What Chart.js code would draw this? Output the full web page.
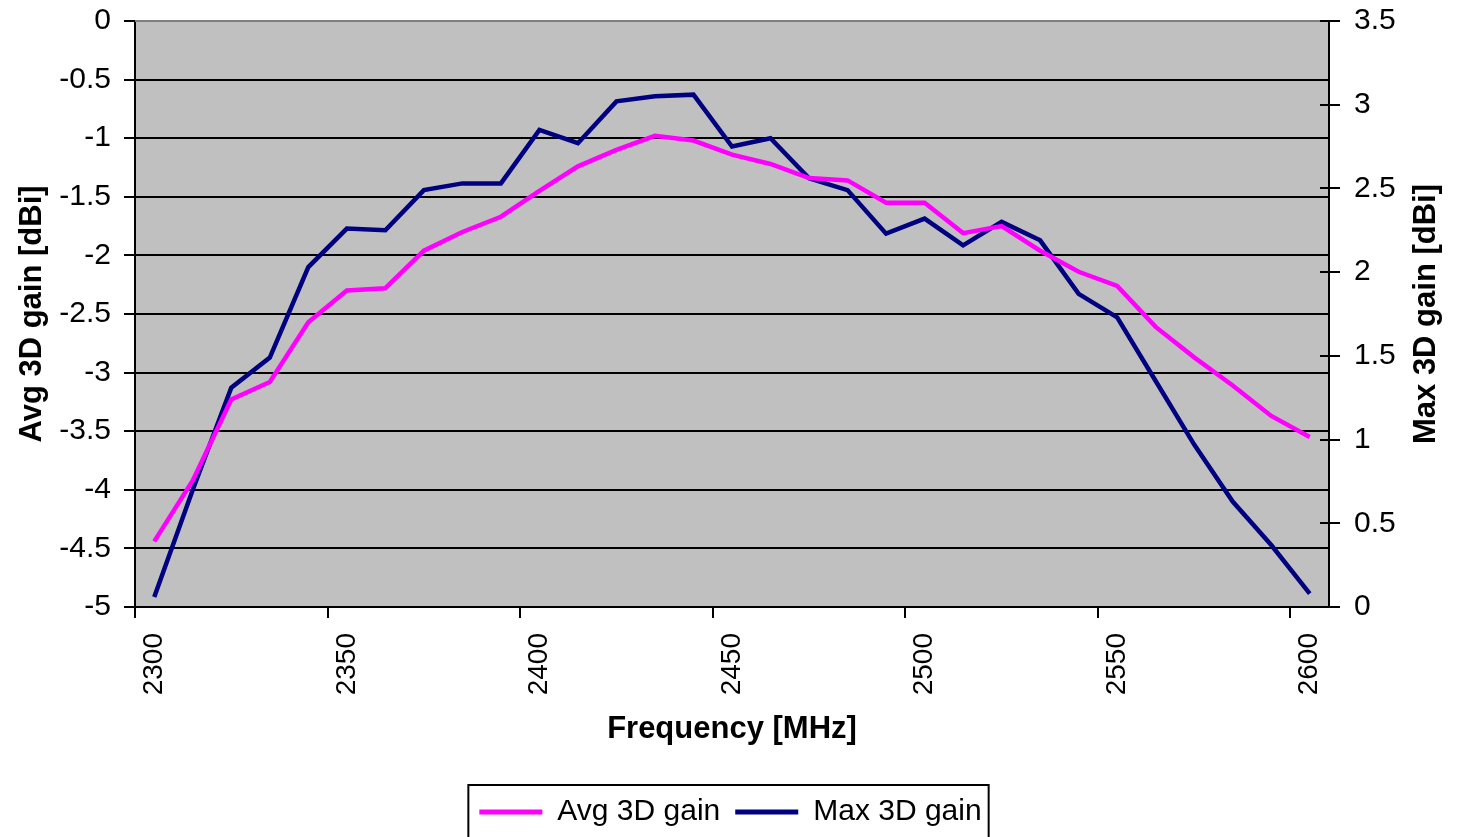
<!DOCTYPE html>
<html>
<head>
<meta charset="utf-8">
<script src="https://cdn.jsdelivr.net/npm/chart.js@4.4.1/dist/chart.umd.min.js"></script>
<style>
  html, body { margin: 0; padding: 0; background: #fff; }
  #wrap { width: 1461px; height: 837px; overflow: hidden; }
</style>
</head>
<body>
<div id="wrap"><canvas id="chart" width="1461" height="837"></canvas></div>
<script>
// frequency categories [MHz]
const frequencies = [2300, 2310, 2320, 2330, 2340, 2350, 2360, 2370, 2380, 2390,
                     2400, 2410, 2420, 2430, 2440, 2450, 2460, 2470, 2480, 2490,
                     2500, 2510, 2520, 2530, 2540, 2550, 2560, 2570, 2580, 2590, 2600];

// left axis, dBi
const avgGain = [-4.44, -3.92, -3.23, -3.08, -2.57, -2.30, -2.28, -1.96, -1.80, -1.67,
                 -1.45, -1.24, -1.10, -0.98, -1.02, -1.14, -1.22, -1.34, -1.36, -1.55,
                 -1.55, -1.81, -1.75, -1.96, -2.14, -2.26, -2.61, -2.87, -3.11, -3.37, -3.55];

// right axis, dBi
const maxGain = [0.06, 0.70, 1.31, 1.49, 2.03, 2.26, 2.25, 2.49, 2.53, 2.53,
                 2.85, 2.77, 3.02, 3.05, 3.06, 2.75, 2.80, 2.56, 2.49, 2.23,
                 2.32, 2.16, 2.30, 2.19, 1.87, 1.73, 1.35, 0.97, 0.63, 0.37, 0.08];

const avgRange = {min: -5, max: 0, step: 0.5};
const maxRange = {min: 0, max: 3.5, step: 0.5};
const labelEvery = 5;

const FONT = "'Liberation Sans', Arial, sans-serif";

// excel style numbers: 0, -0.5, -1 ...
const plainNumber = (value) => String(Math.round(value * 10) / 10);

// keep the tick labels from pushing the plot area down
const fixWidth = (w) => (scale) => {
    scale.width = w;
    scale.paddingTop = 0;
    scale.paddingBottom = 0;
};

const plotArea = {
    id: 'plotArea',
    beforeDraw(chart) {
        const {ctx, chartArea: a} = chart;
        ctx.save();
        ctx.fillStyle = '#C0C0C0';
        ctx.fillRect(a.left, a.top, a.right - a.left, a.bottom - a.top);
        ctx.restore();
    },
    afterDraw(chart) {
        const {ctx, chartArea: a} = chart;
        const y1 = chart.scales.y1;
        ctx.save();
        // top border of plot
        ctx.strokeStyle = '#808080';
        ctx.lineWidth = 2;
        ctx.beginPath();
        ctx.moveTo(a.left, a.top);
        ctx.lineTo(a.right, a.top);
        ctx.stroke();
        // inner half of the cross ticks on the right axis
        ctx.strokeStyle = '#000';
        ctx.lineWidth = 2;
        y1.ticks.forEach(t => {
            const py = Math.round(y1.getPixelForValue(t.value));
            ctx.beginPath();
            ctx.moveTo(a.right - 9, py);
            ctx.lineTo(a.right, py);
            ctx.stroke();
        });
        // right axis title, reads bottom to top like the left one
        ctx.translate(y1.right - 35, (a.top + a.bottom) / 2);
        ctx.rotate(-Math.PI / 2);
        ctx.font = "bold 31px " + FONT;
        ctx.fillStyle = '#000';
        ctx.textAlign = 'center';
        ctx.textBaseline = 'middle';
        ctx.fillText('Max 3D gain [dBi]', 0, 0);
        ctx.restore();
    }
};

const legendFrame = {
    id: 'legendFrame',
    afterDraw(chart) {
        const boxes = chart.legend.legendHitBoxes;
        if (!boxes || !boxes.length) return;
        const first = boxes[0];
        const last = boxes[boxes.length - 1];
        const ctx = chart.ctx;
        ctx.save();
        ctx.strokeStyle = '#000';
        ctx.lineWidth = 2;
        ctx.strokeRect(first.left - 11, chart.legend.top + 3,
                       last.left + last.width - first.left + 18, 90);
        ctx.restore();
    }
};

new Chart(document.getElementById('chart'), {
    type: 'line',
    data: {
        labels: frequencies,
        datasets: [
            {
                label: 'Avg 3D gain',
                data: avgGain,
                yAxisID: 'y',
                borderColor: '#FF00FF',
                backgroundColor: '#FF00FF',
                borderWidth: 4.5,
                pointRadius: 0,
                tension: 0
            },
            {
                label: 'Max 3D gain',
                data: maxGain,
                yAxisID: 'y1',
                borderColor: '#000080',
                backgroundColor: '#000080',
                borderWidth: 4.5,
                pointRadius: 0,
                tension: 0
            }
        ]
    },
    options: {
        responsive: false,
        animation: false,
        layout: { padding: { top: 21, left: 0, right: 0, bottom: 0 } },
        plugins: {
            tooltip: { enabled: false },
            legend: {
                position: 'bottom',
                labels: {
                    font: { family: FONT, size: 30 },
                    color: '#000',
                    boxWidth: 63,
                    boxHeight: 5,
                    padding: 15,
                    generateLabels: (chart) =>
                        Chart.defaults.plugins.legend.labels.generateLabels(chart)
                            .map(item => ({...item, fillStyle: item.strokeStyle, lineWidth: 0}))
                }
            }
        },
        scales: {
            x: {
                type: 'category',
                offset: true,
                afterFit: (scale) => { scale.height = 175; },
                grid: {
                    offset: true,
                    drawOnChartArea: false,
                    tickLength: 11,
                    lineWidth: 2,
                    color: (ctx) => (ctx.index % labelEvery === 0 ? '#000' : 'rgba(0,0,0,0)')
                },
                border: { display: true, color: '#000', width: 2 },
                ticks: {
                    autoSkip: false,
                    minRotation: 90,
                    maxRotation: 90,
                    padding: 15,
                    color: '#000',
                    font: { family: FONT, size: 28 },
                    callback: function (value, index) {
                        return index % labelEvery === 0 ? this.getLabelForValue(value) : '';
                    }
                },
                title: {
                    display: true,
                    text: 'Frequency [MHz]',
                    color: '#000',
                    font: { family: FONT, size: 31, weight: 'bold' },
                    padding: { top: 0, bottom: 34 }
                }
            },
            y: {
                position: 'left',
                min: avgRange.min,
                max: avgRange.max,
                afterFit: fixWidth(135),
                grid: {
                    color: (ctx) => (ctx.tick && ctx.tick.value === avgRange.max ? '#808080' : '#000'),
                    tickColor: '#000',
                    lineWidth: 2,
                    tickLength: 11
                },
                border: { display: true, color: '#000', width: 2 },
                ticks: {
                    stepSize: avgRange.step,
                    padding: 13,
                    color: '#000',
                    font: { family: FONT, size: 30 },
                    callback: plainNumber
                },
                title: {
                    display: true,
                    text: 'Avg 3D gain [dBi]',
                    color: '#000',
                    font: { family: FONT, size: 31, weight: 'bold' },
                    padding: { top: 14, bottom: 0 }
                }
            },
            y1: {
                position: 'right',
                min: maxRange.min,
                max: maxRange.max,
                afterFit: fixWidth(132),
                grid: {
                    drawOnChartArea: false,
                    color: '#000',
                    lineWidth: 2,
                    tickLength: 11
                },
                border: { display: true, color: '#000', width: 2 },
                ticks: {
                    stepSize: maxRange.step,
                    padding: 14,
                    color: '#000',
                    font: { family: FONT, size: 30 },
                    callback: plainNumber
                }
            }
        }
    },
    plugins: [plotArea, legendFrame]
});
</script>
</body>
</html>
